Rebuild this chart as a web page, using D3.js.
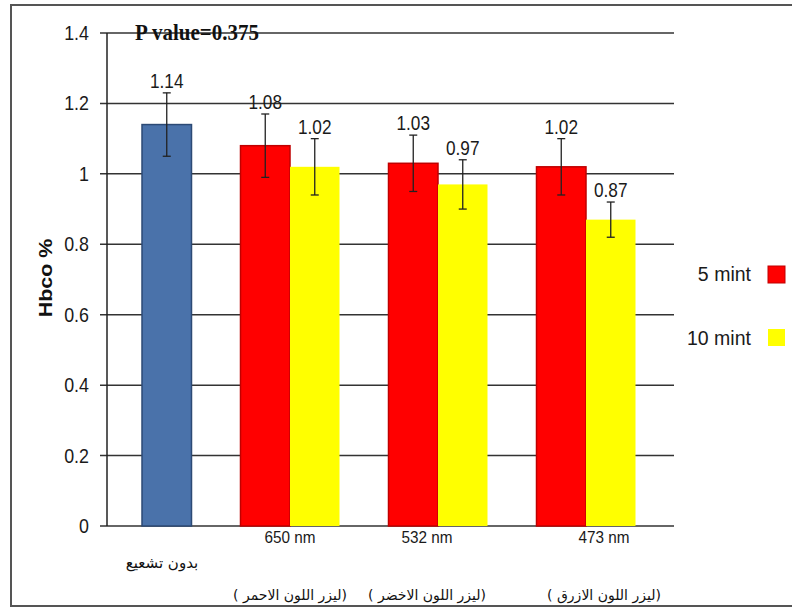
<!DOCTYPE html>
<html>
<head>
<meta charset="utf-8">
<script src="https://cdn.jsdelivr.net/npm/d3@7"></script>
<style>
  html, body { margin: 0; padding: 0; background: #fff; }
  svg { display: block; }
  .sans { font-family: "Liberation Sans", Arial, sans-serif; }
</style>
</head>
<body>
<svg id="chart" width="792" height="607"></svg>
<script>
// ---------- data ----------
const categories = ["بدون تشعيع", "650 nm", "532 nm", "473 nm"];
const subLabels = ["", "( ليزر اللون الاحمر)", "( ليزر اللون الاخضر)", "( ليزر اللون الازرق)"];
const seriesNames = ["5 mint", "10 mint"];
const controlValue = [1.14];
const controlError = [0.09];
const fiveMin = [null, 1.08, 1.03, 1.02];
const fiveMinError = [null, 0.09, 0.08, 0.08];
const tenMin = [null, 1.02, 0.97, 0.87];
const tenMinError = [null, 0.08, 0.07, 0.05];
const yTicks = [0, 0.2, 0.4, 0.6, 0.8, 1, 1.2, 1.4];
const pValueText = "P value=0.375";
const yTitle = "Hbco %";

// ---------- layout ----------
const svg = d3.select("#chart");
const axisX = 107, gridRight = 674, plotTop = 33, plotBottom = 526;
const colors = { control: "#4a72aa", controlStroke: "#2c4a75", five: "#ff0000", fiveStroke: "#c00000", ten: "#ffff00" };
// manual nudges of the category text boxes (layout only)
const catNudge = [20, 0, -11, 18];
const LRM = "\u200E";

// helper: narrow-looking text (horizontal squeeze)
function narrowText(parent, xPos, yPos, txt, size, anchor, sx) {
  return parent.append("text")
    .attr("class", "sans")
    .attr("transform", `translate(${xPos},${yPos}) scale(${sx},1)`)
    .attr("text-anchor", anchor).attr("font-size", size).attr("fill", "#1a1a1a")
    .text(txt);
}

// outer frame
svg.append("rect").attr("x", 11).attr("y", 5).attr("width", 800).attr("height", 601)
  .attr("fill", "none").attr("stroke", "#555").attr("stroke-width", 2);

const y = d3.scaleLinear().domain([0, 1.4]).range([plotBottom, plotTop]);
const x = d3.scaleBand().domain(categories).range([68, 660]).padding(0);
const xInner = d3.scaleBand().domain(seriesNames).range([24.5, 123.5]).padding(0);

// gridlines
svg.append("g").selectAll("line").data(yTicks).join("line")
  .attr("x1", axisX - 7).attr("x2", gridRight)
  .attr("y1", d => y(d)).attr("y2", d => y(d))
  .attr("stroke", "#333").attr("stroke-width", 1.5);

// y axis line
svg.append("line").attr("x1", axisX).attr("x2", axisX).attr("y1", y(1.4)).attr("y2", y(0))
  .attr("stroke", "#222").attr("stroke-width", 1.5);

// y tick labels
const gTicks = svg.append("g");
yTicks.forEach(t => narrowText(gTicks, 89, y(t) + 7, String(+t.toFixed(1)), 21, "end", 0.85));

// build bar records
const bars = [];
controlValue.forEach((v, i) => bars.push({ cat: categories[0], slot: seriesNames[1], v, e: controlError[i], fill: colors.control, stroke: colors.controlStroke }));
categories.forEach((c, i) => {
  if (fiveMin[i] != null) bars.push({ cat: c, slot: seriesNames[0], v: fiveMin[i], e: fiveMinError[i], fill: colors.five, stroke: colors.fiveStroke });
  if (tenMin[i] != null) bars.push({ cat: c, slot: seriesNames[1], v: tenMin[i], e: tenMinError[i], fill: colors.ten, stroke: "none" });
});

const bw = xInner.bandwidth();
const gBars = svg.append("g");
gBars.selectAll("rect").data(bars).join("rect")
  .attr("x", d => x(d.cat) + xInner(d.slot))
  .attr("y", d => y(d.v))
  .attr("width", bw)
  .attr("height", d => y(0) - y(d.v))
  .attr("fill", d => d.fill)
  .attr("stroke", d => d.stroke)
  .attr("stroke-width", 1.5);

// error bars
const gErr = svg.append("g").attr("stroke", "#222").attr("stroke-width", 1.3);
bars.forEach(d => {
  const cx = x(d.cat) + xInner(d.slot) + bw / 2;
  gErr.append("line").attr("x1", cx).attr("x2", cx).attr("y1", y(d.v + d.e)).attr("y2", y(d.v - d.e));
  gErr.append("line").attr("x1", cx - 4).attr("x2", cx + 4).attr("y1", y(d.v + d.e)).attr("y2", y(d.v + d.e));
  gErr.append("line").attr("x1", cx - 4).attr("x2", cx + 4).attr("y1", y(d.v - d.e)).attr("y2", y(d.v - d.e));
});

// value labels
const gVals = svg.append("g");
bars.forEach(d => {
  const cx = x(d.cat) + xInner(d.slot) + bw / 2;
  narrowText(gVals, cx, y(d.v + d.e) - 5, d3.format(".2f")(d.v), 21, "middle", 0.82);
});

// category labels
categories.forEach((c, i) => {
  const cx = x(c) + x.bandwidth() / 2 + catNudge[i];
  if (i === 0) {
    svg.append("text").attr("x", cx).attr("y", 568)
      .attr("text-anchor", "middle")
      .attr("font-family", "DejaVu Sans, Noto Sans, sans-serif").attr("font-size", 15).attr("fill", "#111")
      .text(c);
  } else {
    narrowText(svg, cx, 543, c, 17, "middle", 0.9);
    svg.append("text").attr("x", cx).attr("y", 600)
      .attr("text-anchor", "middle").attr("direction", "ltr")
      .attr("font-family", "DejaVu Sans, Noto Sans, sans-serif").attr("font-size", 14).attr("fill", "#111")
      .text(LRM + subLabels[i] + LRM);
  }
});

// P value
svg.append("text").attr("transform", "translate(135,40) scale(1,1.12)")
  .attr("font-family", "Liberation Serif, serif").attr("font-weight", "bold")
  .attr("font-size", 21).attr("fill", "#111").text(pValueText);

// y title
svg.append("text").attr("transform", "translate(52,278) rotate(-90) scale(1.13,1)")
  .attr("text-anchor", "middle").attr("font-family", "Liberation Sans, Arial, sans-serif")
  .attr("font-weight", "bold").attr("font-size", 19).attr("fill", "#111").text(yTitle);

// legend
const legend = [
  { name: seriesNames[0], fill: colors.five, stroke: colors.fiveStroke, ty: 281, ry: 266 },
  { name: seriesNames[1], fill: colors.ten, stroke: "none", ty: 345, ry: 329 }
];
legend.forEach(l => {
  narrowText(svg, 751, l.ty, l.name, 21, "end", 0.93);
  svg.append("rect").attr("x", 768).attr("y", l.ry).attr("width", 17).attr("height", 17)
    .attr("fill", l.fill).attr("stroke", l.stroke).attr("stroke-width", 1);
});
</script>
</body>
</html>
